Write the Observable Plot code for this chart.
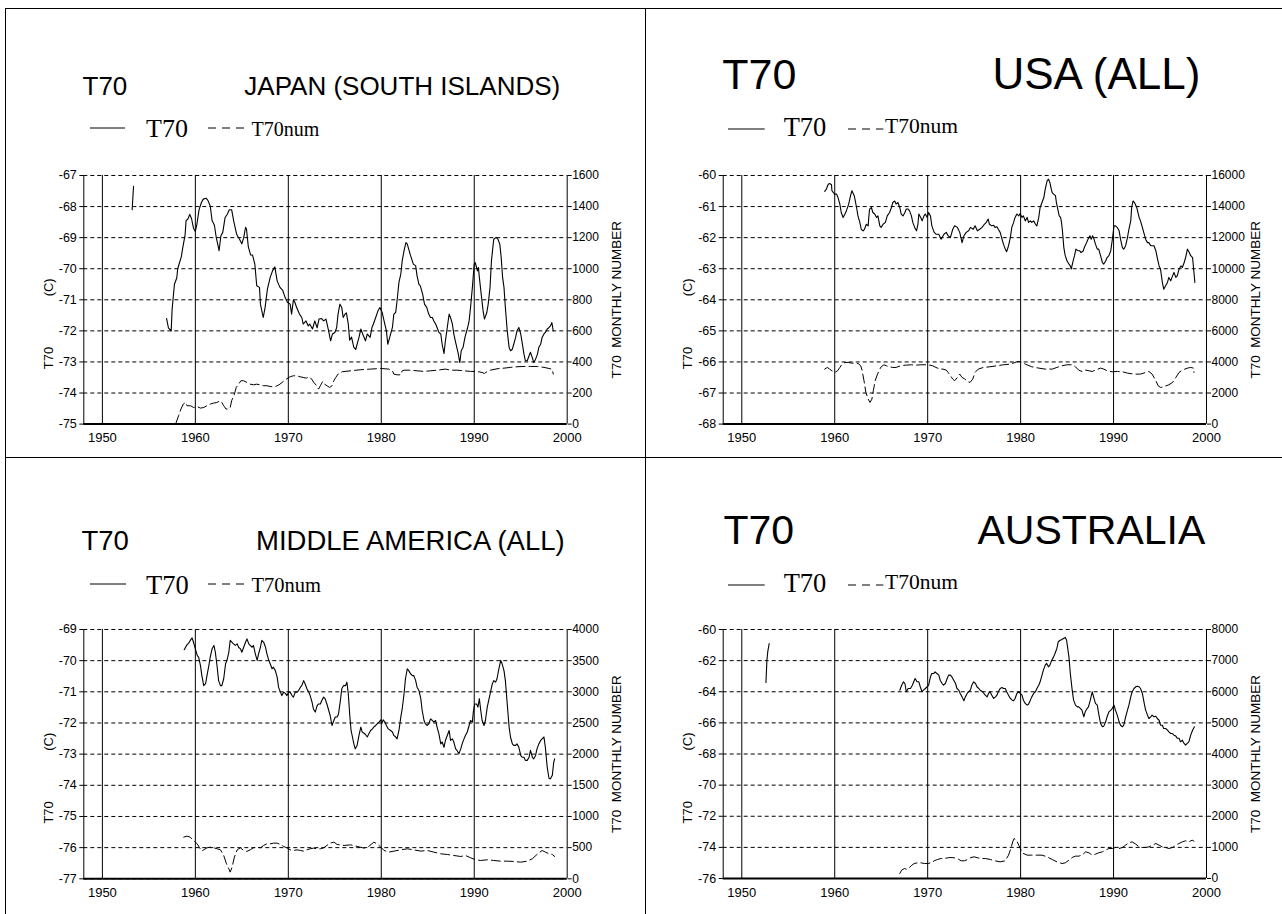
<!DOCTYPE html>
<html><head><meta charset="utf-8">
<script src="https://cdn.jsdelivr.net/npm/d3@7"></script>
<script src="https://cdn.jsdelivr.net/npm/@observablehq/plot@0.6"></script>
<style>
body{margin:0;background:#fff;}
#page{position:relative;width:1282px;height:914px;overflow:hidden;background:#fff;font-family:Arial,"Liberation Sans",sans-serif;}
.hl{position:absolute;height:1.5px;background:#000;}
.vl{position:absolute;width:1.5px;background:#000;}
.t{position:absolute;white-space:nowrap;line-height:1;color:#000;font-family:Arial,"Liberation Sans",sans-serif;}
.serif{font-family:"Times New Roman","Liberation Serif",serif;}
.sw{position:absolute;overflow:visible;}
</style></head><body><div id="page"></div>
<script>
// ---------------- DATA ----------------
const xTicks = [1950, 1960, 1970, 1980, 1990, 2000];
const decadeLines = [1950, 1960, 1970, 1980, 1990];

const japanYTicks = [-75, -74, -73, -72, -71, -70, -69, -68, -67];
const japanNumTicks = [0, 200, 400, 600, 800, 1000, 1200, 1400, 1600];
const usaYTicks = [-68, -67, -66, -65, -64, -63, -62, -61, -60];
const usaNumTicks = [0, 2000, 4000, 6000, 8000, 10000, 12000, 14000, 16000];
const midYTicks = [-77, -76, -75, -74, -73, -72, -71, -70, -69];
const midNumTicks = [0, 500, 1000, 1500, 2000, 2500, 3000, 3500, 4000];
const ausYTicks = [-76, -74, -72, -70, -68, -66, -64, -62, -60];
const ausNumTicks = [0, 1000, 2000, 3000, 4000, 5000, 6000, 7000, 8000];

// JAPAN (SOUTH ISLANDS): [year, T70 (C)]
const japanT70 = [[1953.2,-68.1],[1953.35,-67.35],[1953.4,NaN],
[1956.9,-71.6],[1957.1,-71.9],[1957.4,-72.0],[1957.5,-71.3],[1957.75,-70.5],[1958.0,-70.3],[1958.1,-70.0],[1958.5,-69.6],[1958.6,-69.4],[1958.9,-68.9],[1959.0,-68.45],[1959.2,-68.4],[1959.4,-68.25],[1959.6,-68.4],[1959.8,-68.7],[1960.0,-68.8],[1960.15,-68.6],[1960.4,-68.1],[1960.65,-67.87],[1960.85,-67.76],[1961.15,-67.73],[1961.35,-67.8],[1961.6,-67.98],[1961.8,-68.45],[1962.05,-68.6],[1962.25,-69.0],[1962.4,-69.2],[1962.55,-69.42],[1962.75,-68.94],[1962.95,-68.83],[1963.2,-68.35],[1963.45,-68.24],[1963.65,-68.1],[1963.9,-68.1],[1964.15,-68.5],[1964.45,-68.9],[1964.75,-69.05],[1965.0,-69.2],[1965.2,-69.0],[1965.4,-68.67],[1965.5,-68.72],[1965.7,-69.3],[1965.95,-69.56],[1966.15,-69.56],[1966.4,-69.85],[1966.6,-70.55],[1966.9,-70.6],[1967.0,-71.14],[1967.3,-71.57],[1967.5,-71.25],[1967.75,-70.66],[1968.05,-70.28],[1968.3,-70.07],[1968.55,-69.94],[1968.8,-70.39],[1969.1,-70.6],[1969.4,-70.7],[1969.65,-70.92],[1969.9,-71.08],[1970.2,-71.14],[1970.35,-71.46],[1970.55,-71.0],[1970.7,-71.08],[1970.9,-71.25],[1971.2,-71.46],[1971.45,-71.57],[1971.6,-71.78],[1971.9,-71.68],[1972.15,-71.84],[1972.3,-71.78],[1972.6,-71.94],[1972.85,-71.68],[1973.1,-71.9],[1973.3,-71.62],[1973.55,-71.6],[1973.8,-71.68],[1974.05,-71.62],[1974.3,-71.95],[1974.55,-72.32],[1974.75,-72.1],[1975.0,-72.05],[1975.2,-71.9],[1975.35,-71.46],[1975.55,-71.14],[1975.75,-71.25],[1975.9,-71.57],[1976.1,-71.46],[1976.25,-71.42],[1976.45,-71.78],[1976.6,-72.3],[1976.8,-72.2],[1977.05,-72.53],[1977.25,-72.6],[1977.6,-72.21],[1977.8,-71.94],[1978.0,-72.1],[1978.3,-72.32],[1978.5,-72.1],[1978.8,-72.21],[1979.0,-71.89],[1979.15,-71.78],[1979.4,-71.57],[1979.65,-71.35],[1979.85,-71.25],[1980.1,-71.41],[1980.3,-71.68],[1980.55,-72.0],[1980.7,-72.43],[1980.95,-72.16],[1981.2,-71.89],[1981.35,-71.46],[1981.55,-71.41],[1981.7,-71.03],[1981.9,-70.44],[1982.1,-70.17],[1982.25,-69.75],[1982.45,-69.42],[1982.65,-69.16],[1982.8,-69.21],[1982.95,-69.37],[1983.15,-69.58],[1983.45,-69.85],[1983.7,-69.91],[1983.85,-70.23],[1984.05,-70.5],[1984.2,-70.55],[1984.45,-70.82],[1984.65,-71.14],[1984.9,-71.25],[1985.1,-71.46],[1985.3,-71.57],[1985.5,-71.57],[1985.65,-71.68],[1985.85,-71.78],[1986.0,-71.89],[1986.2,-72.05],[1986.4,-72.1],[1986.55,-72.43],[1986.75,-72.73],[1986.9,-72.32],[1987.1,-71.89],[1987.3,-71.46],[1987.45,-71.57],[1987.65,-71.78],[1987.8,-72.1],[1988.0,-72.37],[1988.25,-72.69],[1988.45,-73.02],[1988.6,-72.64],[1988.8,-72.53],[1989.0,-72.21],[1989.25,-71.94],[1989.45,-71.68],[1989.6,-71.25],[1989.8,-70.6],[1990.0,-69.85],[1990.1,-69.8],[1990.25,-69.96],[1990.35,-70.07],[1990.45,-69.96],[1990.55,-70.28],[1990.75,-70.82],[1990.95,-71.35],[1991.1,-71.62],[1991.35,-71.41],[1991.5,-71.14],[1991.7,-70.6],[1991.85,-69.75],[1992.0,-69.32],[1992.1,-69.05],[1992.35,-68.99],[1992.55,-69.05],[1992.75,-69.21],[1992.9,-69.64],[1993.05,-70.28],[1993.2,-70.6],[1993.35,-71.25],[1993.55,-72.0],[1993.75,-72.53],[1993.9,-72.64],[1994.1,-72.59],[1994.25,-72.43],[1994.45,-72.21],[1994.6,-72.0],[1994.8,-71.89],[1995.0,-72.1],[1995.15,-72.37],[1995.35,-72.75],[1995.5,-72.96],[1995.7,-72.96],[1995.9,-72.8],[1996.05,-72.69],[1996.25,-72.86],[1996.4,-73.02],[1996.6,-72.91],[1996.8,-72.75],[1996.95,-72.53],[1997.15,-72.43],[1997.3,-72.21],[1997.5,-72.1],[1997.65,-72.05],[1997.85,-71.94],[1998.05,-71.89],[1998.2,-71.84],[1998.35,-71.73],[1998.5,-72.0]];

// JAPAN: [year, T70 monthly number]
const japanNum = [[1957.9,4],[1958.2,54],[1958.45,97],[1958.7,129],[1958.95,139],[1959.1,118],[1959.5,118],[1959.8,107],[1960.2,112],[1960.55,103],[1960.9,107],[1961.25,118],[1961.6,129],[1961.95,135],[1962.3,139],[1962.7,150],[1962.85,139],[1963.05,118],[1963.3,97],[1963.55,97],[1963.75,107],[1963.9,150],[1964.2,193],[1964.4,236],[1964.65,257],[1964.9,279],[1965.2,279],[1965.55,268],[1965.9,257],[1966.25,253],[1966.6,257],[1966.95,253],[1967.3,247],[1967.7,247],[1968.05,242],[1968.4,240],[1968.75,245],[1969.1,257],[1969.45,274],[1969.8,290],[1970.2,305],[1970.55,311],[1970.9,311],[1971.25,305],[1971.6,300],[1971.95,296],[1972.25,305],[1972.5,290],[1972.75,268],[1973.05,247],[1973.25,225],[1973.45,247],[1973.7,274],[1973.9,257],[1974.2,245],[1974.45,236],[1974.7,247],[1974.9,279],[1975.1,300],[1975.35,322],[1975.8,337],[1976.7,343],[1977.8,350],[1978.85,354],[1979.95,358],[1980.8,354],[1981.2,343],[1981.35,322],[1981.7,317],[1982.1,317],[1982.25,343],[1982.45,347],[1983.15,347],[1983.85,343],[1984.6,339],[1985.3,343],[1986.0,347],[1986.9,354],[1987.45,347],[1988.15,347],[1988.9,343],[1989.6,339],[1990.3,339],[1990.85,332],[1991.1,326],[1991.4,339],[1991.75,347],[1992.45,356],[1993.2,360],[1993.9,365],[1994.6,369],[1995.35,371],[1996.05,371],[1996.8,371],[1997.5,365],[1998.05,358],[1998.4,352],[1998.5,322]];

// USA (ALL)
const usaT70 = [[1958.92,-60.51],[1959.1,-60.44],[1959.3,-60.28],[1959.45,-60.26],[1959.65,-60.3],[1959.7,-60.49],[1959.85,-60.55],[1960.0,-60.6],[1960.2,-60.6],[1960.35,-60.71],[1960.55,-60.92],[1960.7,-61.19],[1960.9,-61.35],[1961.1,-61.24],[1961.25,-61.14],[1961.5,-60.92],[1961.7,-60.65],[1961.85,-60.49],[1962.1,-60.65],[1962.35,-61.03],[1962.5,-61.3],[1962.7,-61.51],[1962.85,-61.73],[1963.05,-61.78],[1963.2,-61.73],[1963.4,-61.57],[1963.6,-61.62],[1963.65,-61.4],[1963.75,-61.08],[1963.95,-61.03],[1964.1,-61.19],[1964.3,-61.24],[1964.5,-61.35],[1964.65,-61.3],[1964.85,-61.62],[1965.0,-61.67],[1965.2,-61.57],[1965.45,-61.51],[1965.65,-61.3],[1965.9,-61.19],[1966.1,-61.03],[1966.25,-60.87],[1966.45,-60.82],[1966.6,-60.92],[1966.8,-60.87],[1967.0,-61.03],[1967.15,-61.24],[1967.35,-61.3],[1967.55,-61.19],[1967.7,-61.08],[1967.9,-61.08],[1968.05,-61.14],[1968.25,-61.3],[1968.4,-61.51],[1968.6,-61.67],[1968.8,-61.78],[1968.95,-61.57],[1969.05,-61.24],[1969.25,-61.35],[1969.4,-61.46],[1969.6,-61.3],[1969.75,-61.24],[1969.95,-61.35],[1970.1,-61.19],[1970.3,-61.3],[1970.45,-61.62],[1970.7,-61.83],[1970.9,-61.89],[1971.2,-61.89],[1971.45,-62.05],[1971.75,-61.89],[1972.0,-61.83],[1972.2,-61.94],[1972.45,-61.99],[1972.7,-61.73],[1972.9,-61.62],[1973.2,-61.67],[1973.45,-61.83],[1973.7,-62.16],[1973.9,-61.94],[1974.15,-61.83],[1974.4,-61.78],[1974.6,-61.67],[1974.9,-61.73],[1975.1,-61.62],[1975.35,-61.78],[1975.6,-61.73],[1975.85,-61.67],[1976.1,-61.57],[1976.3,-61.51],[1976.5,-61.4],[1976.65,-61.57],[1976.9,-61.62],[1977.1,-61.6],[1977.25,-61.67],[1977.45,-61.65],[1977.6,-61.73],[1977.8,-61.83],[1978.0,-62.05],[1978.15,-62.21],[1978.35,-62.37],[1978.5,-62.45],[1978.7,-62.26],[1978.9,-61.99],[1979.05,-61.67],[1979.25,-61.51],[1979.4,-61.35],[1979.6,-61.24],[1979.8,-61.3],[1979.95,-61.22],[1980.15,-61.35],[1980.3,-61.3],[1980.5,-61.46],[1980.7,-61.35],[1980.85,-61.51],[1981.05,-61.46],[1981.2,-61.51],[1981.4,-61.46],[1981.6,-61.57],[1981.75,-61.62],[1981.95,-61.35],[1982.1,-61.03],[1982.3,-60.87],[1982.5,-60.71],[1982.65,-60.44],[1982.85,-60.17],[1983.0,-60.12],[1983.15,-60.23],[1983.3,-60.44],[1983.4,-60.55],[1983.55,-60.6],[1983.75,-60.65],[1983.85,-60.87],[1984.0,-61.08],[1984.15,-61.3],[1984.3,-61.35],[1984.4,-61.51],[1984.5,-61.78],[1984.65,-62.32],[1984.8,-62.58],[1985.0,-62.75],[1985.2,-62.85],[1985.35,-62.91],[1985.45,-63.01],[1985.65,-62.75],[1985.8,-62.58],[1985.95,-62.37],[1986.15,-62.42],[1986.35,-62.42],[1986.5,-62.48],[1986.75,-62.42],[1986.85,-62.32],[1987.1,-62.16],[1987.25,-62.05],[1987.45,-61.94],[1987.6,-62.05],[1987.75,-61.94],[1987.9,-62.05],[1988.05,-62.21],[1988.25,-62.37],[1988.4,-62.37],[1988.6,-62.58],[1988.8,-62.8],[1988.95,-62.85],[1989.15,-62.75],[1989.3,-62.64],[1989.5,-62.58],[1989.7,-62.42],[1989.85,-62.1],[1990.05,-61.62],[1990.2,-61.62],[1990.4,-61.67],[1990.6,-61.78],[1990.75,-62.05],[1990.95,-62.32],[1991.1,-62.37],[1991.3,-62.26],[1991.5,-61.99],[1991.65,-61.73],[1991.85,-61.46],[1991.95,-61.03],[1992.1,-60.82],[1992.25,-60.87],[1992.5,-61.03],[1992.75,-61.35],[1992.9,-61.46],[1993.1,-61.67],[1993.3,-61.89],[1993.45,-62.05],[1993.65,-62.16],[1993.8,-62.16],[1994.0,-62.26],[1994.15,-62.26],[1994.35,-62.26],[1994.55,-62.42],[1994.7,-62.64],[1994.9,-62.91],[1995.05,-63.01],[1995.25,-63.44],[1995.4,-63.66],[1995.6,-63.55],[1995.8,-63.44],[1995.95,-63.28],[1996.15,-63.39],[1996.35,-63.23],[1996.5,-63.12],[1996.7,-63.28],[1996.85,-63.23],[1997.05,-63.01],[1997.25,-62.91],[1997.4,-62.96],[1997.6,-62.8],[1997.75,-62.64],[1997.95,-62.37],[1998.15,-62.48],[1998.3,-62.58],[1998.5,-62.64],[1998.65,-63.12],[1998.75,-63.44]];

const usaNum = [[1958.92,3539],[1959.2,3646],[1959.45,3539],[1959.7,3432],[1960.0,3324],[1960.3,3432],[1960.55,3646],[1960.8,3861],[1961.1,3968],[1961.45,3968],[1961.8,3925],[1962.15,3925],[1962.5,3903],[1962.8,3753],[1962.95,3432],[1963.15,2788],[1963.35,2038],[1963.6,1609],[1963.8,1394],[1964.0,1609],[1964.15,2145],[1964.35,2788],[1964.6,3217],[1964.85,3539],[1965.0,3689],[1965.3,3818],[1965.55,3753],[1965.9,3689],[1966.25,3646],[1966.6,3646],[1967.0,3732],[1967.35,3775],[1967.7,3796],[1968.25,3818],[1968.8,3796],[1969.3,3818],[1969.85,3818],[1970.2,3796],[1970.55,3753],[1970.9,3646],[1971.3,3539],[1971.65,3539],[1972.0,3475],[1972.2,3324],[1972.45,3110],[1972.7,2896],[1972.9,2788],[1973.2,3003],[1973.45,3217],[1973.7,3003],[1974.0,2896],[1974.3,2738],[1974.55,2681],[1974.85,2896],[1975.1,3324],[1975.45,3539],[1976.0,3646],[1976.7,3689],[1977.45,3753],[1978.15,3818],[1978.9,3861],[1979.6,4011],[1979.95,4032],[1980.5,3861],[1981.2,3689],[1981.95,3603],[1982.65,3539],[1983.4,3539],[1983.9,3646],[1984.45,3753],[1985.0,3818],[1985.55,3818],[1985.9,3689],[1986.25,3475],[1986.6,3389],[1986.95,3475],[1987.35,3432],[1987.7,3389],[1988.05,3475],[1988.6,3603],[1988.95,3539],[1989.3,3432],[1989.85,3367],[1990.4,3389],[1990.95,3367],[1991.5,3282],[1992.2,3217],[1992.9,3217],[1993.45,3324],[1993.8,3389],[1994.15,3217],[1994.55,2788],[1994.8,2467],[1995.05,2359],[1995.4,2402],[1995.95,2531],[1996.35,2681],[1996.7,3003],[1997.05,3324],[1997.4,3475],[1997.95,3603],[1998.3,3646],[1998.6,3603],[1998.65,3324]];

// MIDDLE AMERICA (ALL)
const midT70 = [[1958.8,-69.65],[1959.05,-69.51],[1959.3,-69.43],[1959.45,-69.35],[1959.65,-69.27],[1959.8,-69.41],[1960.0,-69.62],[1960.2,-69.83],[1960.35,-69.89],[1960.55,-70.16],[1960.7,-70.48],[1960.9,-70.8],[1961.1,-70.74],[1961.25,-70.48],[1961.45,-70.16],[1961.6,-69.89],[1961.8,-69.62],[1962.0,-69.51],[1962.15,-69.73],[1962.35,-70.21],[1962.5,-70.64],[1962.7,-70.8],[1962.85,-70.8],[1963.05,-70.58],[1963.25,-70.1],[1963.4,-69.99],[1963.6,-69.73],[1963.75,-69.35],[1963.95,-69.41],[1964.1,-69.46],[1964.3,-69.51],[1964.5,-69.46],[1964.65,-69.57],[1964.85,-69.62],[1965.0,-69.73],[1965.2,-69.57],[1965.4,-69.41],[1965.55,-69.3],[1965.75,-69.46],[1965.9,-69.51],[1966.1,-69.57],[1966.25,-69.51],[1966.45,-69.78],[1966.65,-69.99],[1966.8,-69.78],[1967.0,-69.57],[1967.15,-69.35],[1967.35,-69.41],[1967.55,-69.57],[1967.7,-69.78],[1967.9,-69.99],[1968.05,-70.1],[1968.25,-70.26],[1968.4,-70.21],[1968.6,-70.32],[1968.8,-70.53],[1968.95,-70.85],[1969.15,-71.01],[1969.3,-71.12],[1969.5,-71.01],[1969.7,-71.06],[1969.85,-71.12],[1970.05,-71.01],[1970.2,-71.01],[1970.4,-71.12],[1970.55,-71.17],[1970.75,-71.01],[1970.95,-71.01],[1971.1,-70.96],[1971.3,-70.85],[1971.45,-70.8],[1971.65,-70.64],[1971.8,-70.74],[1972.0,-70.9],[1972.2,-71.01],[1972.35,-71.12],[1972.55,-71.33],[1972.7,-71.55],[1972.9,-71.65],[1973.1,-71.44],[1973.25,-71.39],[1973.45,-71.39],[1973.6,-71.28],[1973.8,-71.17],[1973.95,-71.22],[1974.15,-71.39],[1974.35,-71.6],[1974.5,-71.76],[1974.7,-72.08],[1974.9,-71.92],[1975.05,-71.81],[1975.25,-71.81],[1975.4,-71.71],[1975.6,-71.28],[1975.75,-70.9],[1975.95,-70.8],[1976.15,-70.8],[1976.3,-70.69],[1976.45,-71.06],[1976.6,-71.71],[1976.75,-72.24],[1976.9,-72.45],[1977.05,-72.67],[1977.2,-72.83],[1977.4,-72.72],[1977.6,-72.4],[1977.8,-72.13],[1977.95,-72.29],[1978.15,-72.33],[1978.3,-72.37],[1978.5,-72.45],[1978.65,-72.35],[1978.85,-72.24],[1979.05,-72.19],[1979.2,-72.13],[1979.4,-72.08],[1979.55,-72.03],[1979.75,-71.97],[1979.95,-71.9],[1980.05,-72.03],[1980.2,-71.9],[1980.4,-71.97],[1980.55,-72.08],[1980.75,-72.19],[1981.0,-72.24],[1981.2,-72.29],[1981.35,-72.4],[1981.55,-72.45],[1981.7,-72.51],[1981.9,-72.24],[1982.1,-71.81],[1982.25,-71.55],[1982.45,-71.06],[1982.6,-70.58],[1982.8,-70.26],[1982.95,-70.32],[1983.15,-70.42],[1983.35,-70.48],[1983.5,-70.48],[1983.7,-70.64],[1983.85,-70.85],[1984.05,-70.96],[1984.25,-71.22],[1984.4,-71.6],[1984.6,-71.92],[1984.75,-72.03],[1984.95,-72.08],[1985.1,-72.03],[1985.3,-71.87],[1985.5,-71.92],[1985.65,-71.97],[1985.85,-71.92],[1986.0,-72.13],[1986.2,-72.35],[1986.4,-72.67],[1986.55,-72.61],[1986.75,-72.78],[1986.9,-72.56],[1987.1,-72.4],[1987.3,-72.24],[1987.45,-72.56],[1987.65,-72.51],[1987.8,-72.61],[1988.0,-72.83],[1988.15,-72.88],[1988.35,-72.99],[1988.55,-72.83],[1988.7,-72.67],[1988.9,-72.51],[1989.05,-72.4],[1989.25,-72.29],[1989.45,-72.08],[1989.6,-71.92],[1989.8,-71.97],[1989.9,-71.65],[1990.05,-71.39],[1990.25,-71.39],[1990.4,-71.49],[1990.55,-71.22],[1990.7,-71.6],[1990.85,-71.92],[1991.05,-72.08],[1991.2,-71.92],[1991.4,-71.49],[1991.55,-71.28],[1991.75,-71.01],[1991.95,-70.74],[1992.1,-70.64],[1992.3,-70.69],[1992.45,-70.58],[1992.65,-70.26],[1992.85,-69.99],[1993.0,-70.1],[1993.2,-70.32],[1993.35,-70.64],[1993.55,-71.39],[1993.75,-72.13],[1993.9,-72.45],[1994.1,-72.67],[1994.25,-72.72],[1994.45,-72.72],[1994.6,-72.67],[1994.8,-72.78],[1995.0,-73.04],[1995.15,-73.1],[1995.35,-73.1],[1995.5,-73.2],[1995.7,-73.2],[1995.9,-73.1],[1996.05,-72.88],[1996.25,-73.1],[1996.4,-73.15],[1996.6,-73.04],[1996.75,-72.83],[1996.95,-72.67],[1997.15,-72.56],[1997.3,-72.51],[1997.5,-72.45],[1997.65,-72.78],[1997.85,-73.42],[1998.05,-73.79],[1998.2,-73.79],[1998.4,-73.68],[1998.55,-73.26],[1998.65,-73.15]];

const midNum = [[1958.75,668],[1959.1,685],[1959.45,668],[1959.8,615],[1960.2,561],[1960.45,497],[1960.7,444],[1960.9,465],[1961.25,497],[1961.6,508],[1962.0,497],[1962.35,481],[1962.7,465],[1963.05,374],[1963.35,241],[1963.6,160],[1963.75,107],[1963.95,187],[1964.2,348],[1964.5,465],[1964.85,497],[1965.2,455],[1965.55,439],[1965.9,465],[1966.25,497],[1966.65,508],[1967.0,497],[1967.35,535],[1967.7,561],[1968.05,561],[1968.4,572],[1968.8,572],[1969.15,551],[1969.5,519],[1969.85,497],[1970.2,465],[1970.55,455],[1970.95,465],[1971.3,455],[1971.65,444],[1972.0,465],[1972.35,481],[1972.7,492],[1973.1,481],[1973.45,481],[1973.8,497],[1974.15,535],[1974.5,572],[1974.9,588],[1975.25,551],[1976.0,535],[1976.7,545],[1977.4,519],[1978.15,492],[1978.65,519],[1979.2,588],[1979.55,561],[1979.95,508],[1980.3,455],[1980.8,428],[1981.35,444],[1982.1,465],[1982.8,481],[1983.5,465],[1984.25,444],[1984.95,455],[1985.65,428],[1986.4,401],[1987.1,390],[1987.8,374],[1988.55,358],[1989.05,374],[1989.6,337],[1990.15,305],[1990.7,294],[1991.4,305],[1992.1,294],[1992.85,283],[1993.55,283],[1994.25,278],[1995.0,267],[1995.7,283],[1996.25,321],[1996.75,390],[1997.3,455],[1997.65,428],[1998.05,401],[1998.4,390],[1998.65,358]];

// AUSTRALIA
const ausT70 = [[1952.6,-63.4],[1952.7,-62.0],[1952.8,-61.4],[1952.95,-60.9],[1953.0,NaN],
[1967.0,-63.9],[1967.2,-63.58],[1967.4,-63.36],[1967.55,-63.47],[1967.7,-64.0],[1967.9,-63.79],[1968.15,-63.79],[1968.35,-63.58],[1968.5,-63.36],[1968.65,-63.15],[1968.85,-63.36],[1969.05,-63.36],[1969.2,-63.68],[1969.4,-64.0],[1969.55,-63.9],[1969.75,-63.79],[1969.95,-63.68],[1970.1,-63.58],[1970.3,-63.04],[1970.45,-62.83],[1970.65,-62.83],[1970.8,-62.72],[1971.0,-62.83],[1971.2,-62.93],[1971.35,-63.26],[1971.55,-63.47],[1971.7,-63.58],[1971.9,-63.47],[1972.1,-63.15],[1972.25,-62.93],[1972.45,-62.93],[1972.6,-63.04],[1972.8,-63.26],[1973.0,-63.47],[1973.15,-63.79],[1973.35,-63.9],[1973.5,-64.11],[1973.7,-64.33],[1973.9,-64.58],[1974.05,-64.33],[1974.25,-64.11],[1974.4,-64.0],[1974.6,-63.9],[1974.75,-63.58],[1974.95,-63.36],[1975.15,-63.47],[1975.3,-63.68],[1975.5,-63.79],[1975.65,-63.9],[1975.9,-64.0],[1976.2,-64.22],[1976.4,-64.33],[1976.55,-64.11],[1976.7,-64.0],[1976.9,-64.22],[1977.1,-64.43],[1977.3,-64.33],[1977.45,-64.22],[1977.6,-64.0],[1977.8,-63.79],[1978.0,-63.73],[1978.15,-63.79],[1978.35,-63.79],[1978.5,-64.0],[1978.7,-64.22],[1978.9,-64.43],[1979.1,-64.54],[1979.25,-64.58],[1979.4,-64.43],[1979.6,-64.11],[1979.8,-64.0],[1979.95,-64.11],[1980.15,-64.22],[1980.3,-64.54],[1980.5,-64.75],[1980.7,-64.86],[1980.85,-64.8],[1981.05,-64.54],[1981.2,-64.33],[1981.4,-64.11],[1981.6,-64.0],[1981.75,-63.79],[1981.95,-63.58],[1982.1,-63.36],[1982.3,-62.93],[1982.45,-62.61],[1982.65,-62.29],[1982.8,-62.18],[1983.0,-62.4],[1983.15,-62.29],[1983.35,-61.97],[1983.55,-61.76],[1983.7,-61.54],[1983.9,-61.22],[1984.05,-60.79],[1984.25,-60.69],[1984.45,-60.64],[1984.6,-60.58],[1984.8,-60.51],[1984.95,-60.69],[1985.2,-61.76],[1985.35,-62.83],[1985.55,-63.9],[1985.7,-64.54],[1985.9,-64.86],[1986.1,-64.97],[1986.25,-64.97],[1986.45,-65.08],[1986.6,-65.18],[1986.8,-65.61],[1986.95,-65.29],[1987.15,-65.08],[1987.3,-64.97],[1987.5,-64.54],[1987.7,-64.0],[1987.85,-64.33],[1988.05,-64.75],[1988.25,-64.86],[1988.4,-65.4],[1988.6,-66.04],[1988.8,-66.25],[1988.95,-66.21],[1989.15,-65.93],[1989.3,-65.61],[1989.5,-65.29],[1989.7,-65.18],[1989.85,-65.08],[1990.05,-64.86],[1990.2,-65.18],[1990.4,-65.5],[1990.6,-65.93],[1990.75,-66.15],[1990.95,-66.25],[1991.1,-66.15],[1991.3,-65.61],[1991.5,-65.18],[1991.65,-64.86],[1991.85,-64.33],[1992.0,-64.0],[1992.2,-63.79],[1992.4,-63.68],[1992.55,-63.64],[1992.75,-63.68],[1992.9,-63.79],[1993.1,-64.11],[1993.3,-64.75],[1993.45,-65.18],[1993.65,-65.5],[1993.8,-65.72],[1994.0,-65.61],[1994.15,-65.5],[1994.35,-65.61],[1994.55,-65.57],[1994.7,-65.72],[1994.9,-65.83],[1995.05,-66.15],[1995.25,-66.15],[1995.4,-66.36],[1995.6,-66.36],[1995.8,-66.47],[1995.95,-66.58],[1996.15,-66.68],[1996.3,-66.68],[1996.5,-66.79],[1996.7,-66.85],[1996.85,-66.99],[1997.05,-66.99],[1997.2,-67.22],[1997.4,-67.11],[1997.55,-67.28],[1997.75,-67.43],[1997.9,-67.33],[1998.1,-67.22],[1998.3,-66.79],[1998.5,-66.47],[1998.7,-66.25]];

const ausNum = [[1967.0,161],[1967.2,268],[1967.5,321],[1967.8,289],[1968.05,353],[1968.3,428],[1968.55,482],[1968.9,503],[1969.3,503],[1969.65,482],[1970.0,482],[1970.35,503],[1970.7,568],[1971.05,610],[1971.45,643],[1971.8,643],[1972.15,664],[1972.5,675],[1972.85,664],[1973.2,643],[1973.6,568],[1973.95,568],[1974.3,610],[1974.65,675],[1975.0,696],[1975.4,664],[1975.75,643],[1976.2,643],[1976.75,610],[1977.25,568],[1977.8,536],[1978.35,568],[1978.7,750],[1978.95,964],[1979.15,1178],[1979.3,1285],[1979.55,1232],[1979.8,1071],[1980.05,910],[1980.3,803],[1980.7,750],[1981.2,750],[1981.75,750],[1982.3,750],[1982.85,696],[1983.4,610],[1983.9,536],[1984.45,482],[1984.8,503],[1985.2,589],[1985.55,675],[1985.9,718],[1986.25,718],[1986.6,750],[1987.0,857],[1987.35,825],[1987.7,750],[1988.05,782],[1988.4,825],[1988.8,857],[1989.15,910],[1989.5,964],[1989.85,964],[1990.2,996],[1990.6,964],[1990.95,996],[1991.3,1071],[1991.65,1146],[1992.0,1178],[1992.4,1103],[1992.75,1017],[1993.1,996],[1993.45,996],[1993.8,1017],[1994.2,1071],[1994.55,1125],[1994.9,1071],[1995.25,1017],[1995.6,996],[1995.95,964],[1996.35,996],[1996.7,1071],[1997.05,1125],[1997.4,1178],[1997.75,1210],[1998.1,1178],[1998.45,1232],[1998.65,1200]];

// ---------------- LAYOUT ----------------
const page = document.getElementById("page");

function el(tag, cls, css) {
  const e = document.createElement(tag);
  if (cls) e.className = cls;
  Object.assign(e.style, css || {});
  page.appendChild(e);
  return e;
}
function text(str, left, baseline, size, serif) {
  const asc = serif ? 0.8375 : 0.8465;
  const e = el("div", "t" + (serif ? " serif" : ""), {left: left + "px", top: (baseline - asc * size) + "px", fontSize: size + "px"});
  e.textContent = str;
  return e;
}
function swatch(x1, x2, y, dash) {
  const ns = "http://www.w3.org/2000/svg";
  const s = document.createElementNS(ns, "svg");
  s.setAttribute("class", "sw");
  s.setAttribute("width", x2 - x1);
  s.setAttribute("height", 4);
  s.style.left = x1 + "px";
  s.style.top = (y - 2) + "px";
  const l = document.createElementNS(ns, "line");
  l.setAttribute("x1", 0); l.setAttribute("x2", x2 - x1);
  l.setAttribute("y1", 2); l.setAttribute("y2", 2);
  l.setAttribute("stroke", "black"); l.setAttribute("stroke-width", 1);
  if (dash) l.setAttribute("stroke-dasharray", dash);
  s.appendChild(l);
  page.appendChild(s);
}

const panels = [
  {left: 0, width: 645, plotLeft: 83.3, plotRight: 566.7, plotTop: 174.7, plotBottom: 423.3,
   yDomain: [-75, -67], yTicks: japanYTicks, numMax: 1600, numTicks: japanNumTicks, t70: japanT70, num: japanNum,
   title: {size: 26, base: 95, left: 82.5}, name: {str: "JAPAN (SOUTH ISLANDS)", left: 244.3, size: 26},
   legend: {y: 128, solid: [90, 125], t70: [146, 138, 26], dash: [208, 244], numL: [251.5, 135.8, 20]}},
  {left: 646, width: 636, plotLeft: 722.7, plotRight: 1206, plotTop: 174.7, plotBottom: 423.3,
   yDomain: [-68, -60], yTicks: usaYTicks, numMax: 16000, numTicks: usaNumTicks, t70: usaT70, num: usaNum,
   title: {size: 43, base: 89, left: 722.3}, name: {str: "USA (ALL)", left: 992.5, size: 44},
   legend: {y: 129, solid: [728.3, 765], t70: [783.7, 136.5, 26.5], dash: [847.7, 883], numL: [885, 134, 21.5]}},
  {left: 0, width: 645, plotLeft: 83.3, plotRight: 566.7, plotTop: 629, plotBottom: 878.3,
   yDomain: [-77, -69], yTicks: midYTicks, numMax: 4000, numTicks: midNumTicks, t70: midT70, num: midNum,
   title: {size: 27.5, base: 550, left: 81.5}, name: {str: "MIDDLE AMERICA (ALL)", left: 256, size: 27.5},
   legend: {y: 584, solid: [90, 126], t70: [146, 594, 26.5], dash: [208, 244], numL: [251.5, 591.8, 20.5]}},
  {left: 646, width: 636, plotLeft: 722.7, plotRight: 1206, plotTop: 629.3, plotBottom: 878.3,
   yDomain: [-76, -60], yTicks: ausYTicks, numMax: 8000, numTicks: ausNumTicks, t70: ausT70, num: ausNum,
   title: {size: 41, base: 544.5, left: 723.5}, name: {str: "AUSTRALIA", left: 977.5, size: 41},
   legend: {y: 585, solid: [728.3, 765], t70: [783.7, 592.5, 26.5], dash: [847.7, 883], numL: [885, 590, 21.5]}}
];

for (const p of panels) {
  const [ymin, ymax] = p.yDomain;
  const span = ymax - ymin;
  const toLeft = n => ymin + n / p.numMax * span;
  const fromLeft = v => Math.round((v - ymin) / span * p.numMax);
  const mt = 20, mb = 30;
  const h = mt + (p.plotBottom - p.plotTop) + mb;
  const chart = Plot.plot({
    width: p.width, height: h,
    marginLeft: p.plotLeft - p.left, marginRight: p.left + p.width - p.plotRight,
    marginTop: mt, marginBottom: mb,
    x: {domain: [1948, 2000]},
    y: {domain: p.yDomain},
    style: {fontFamily: "Arial, 'Liberation Sans', sans-serif", fontSize: "12px", color: "black", background: "transparent", overflow: "visible"},
    marks: [
      Plot.gridY(p.yTicks, {stroke: "black", strokeOpacity: 1, strokeWidth: 1, strokeDasharray: "4,3"}),
      Plot.ruleX(decadeLines, {stroke: "black", strokeWidth: 1}),
      Plot.line(p.num, {x: d => d[0], y: d => toLeft(d[1]), stroke: "black", strokeWidth: 1, strokeDasharray: "9,4"}),
      Plot.line(p.t70, {x: d => d[0], y: d => d[1], stroke: "black", strokeWidth: 1.1}),
      Plot.ruleX([1948, 2000], {stroke: "black", strokeWidth: 1}),
      Plot.ruleY([ymin], {stroke: "black", strokeWidth: 2}),
      Plot.axisY(p.yTicks, {anchor: "left", tickSize: 4, tickPadding: 3, tickFormat: d => String(d), fontSize: 12.5, label: null}),
      Plot.axisY(p.numTicks.map(toLeft), {anchor: "right", tickSize: 4, tickPadding: 1, tickFormat: v => String(fromLeft(v)), label: null}),
      Plot.axisX(xTicks, {anchor: "bottom", tickSize: 0, tickPadding: 9, tickFormat: d => String(d), fontSize: 13, label: null}),
      Plot.text(["T70\u00a0\u00a0\u00a0\u00a0\u00a0\u00a0\u00a0\u00a0\u00a0\u00a0\u00a0\u00a0\u00a0\u00a0(C)"], {frameAnchor: "left", textAnchor: "middle", dx: -35, dy: 24, rotate: -90, fontSize: 13}),
      Plot.text(["T70\u00a0\u00a0MONTHLY NUMBER"], {frameAnchor: "right", textAnchor: "middle", dx: 49, rotate: -90, fontSize: 13.5})
    ]
  });
  chart.style.position = "absolute";
  chart.style.left = p.left + "px";
  chart.style.top = (p.plotTop - mt) + "px";
  page.appendChild(chart);

  text("T70", p.title.left, p.title.base, p.title.size, false);
  text(p.name.str, p.name.left, p.title.base, p.name.size, false);
  swatch(p.legend.solid[0], p.legend.solid[1], p.legend.y, null);
  text("T70", p.legend.t70[0], p.legend.t70[1], p.legend.t70[2], true);
  swatch(p.legend.dash[0], p.legend.dash[1], p.legend.y, "8,6");
  text("T70num", p.legend.numL[0], p.legend.numL[1], p.legend.numL[2], true);
}

// frame lines (drawn last, on top)
el("div", "hl", {left: "5px", top: "7.5px", width: "1277px"});
el("div", "vl", {left: "4.5px", top: "7.5px", height: "907px"});
el("div", "vl", {left: "644.5px", top: "7.5px", height: "907px"});
el("div", "hl", {left: "5px", top: "456.5px", width: "1277px"});
</script></body></html>
